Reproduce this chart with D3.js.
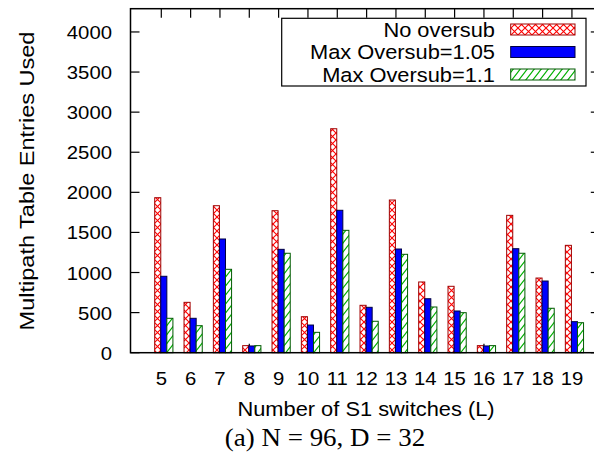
<!DOCTYPE html>
<html><head><meta charset="utf-8">
<script src="https://cdn.jsdelivr.net/npm/d3@7"></script>
<style>body{margin:0;background:#fff}</style>
</head><body>
<svg id="c" width="594" height="457" xmlns="http://www.w3.org/2000/svg"></svg>
<script>
const categories = [5,6,7,8,9,10,11,12,13,14,15,16,17,18,19];
const seriesNames = ["No oversub","Max Oversub=1.05","Max Oversub=1.1"];
const noOversub  = [1933,628,1833,88,1771,449,2793,591,1904,882,828,88,1713,931,1339];
const oversub105 = [953,429,1418,84,1289,345,1776,566,1293,673,520,84,1297,894,387];
const oversub11  = [429,337,1040,88,1240,254,1526,392,1227,570,499,88,1240,554,374];
const yTicks = [0,500,1000,1500,2000,2500,3000,3500,4000];
const xLabel = "Number of S1 switches (L)";
const yLabel = "Multipath Table Entries Used";
const caption = "(a)  N = 96, D = 32";

const series = [noOversub, oversub105, oversub11];
const SANS = "'Liberation Sans', Arial, Helvetica, sans-serif";
const SERIF = "'Liberation Serif', 'Times New Roman', serif";
const SX = 1.1;

const svg = d3.select("#c");
const L = 130.5, R = 599.8, T = 8.7, B = 352.7;
const x = d3.scaleLinear().domain([-1.05, 14.95]).range([L, R]);
const y = d3.scaleLinear().domain([0, 4290]).range([B, T]);
const bw = 0.207, off0 = -0.225;

// patterns
const defs = svg.append("defs");
const pr = defs.append("pattern").attr("id","pRed").attr("patternUnits","userSpaceOnUse")
  .attr("width",7).attr("height",7);
pr.append("rect").attr("width",7).attr("height",7).attr("fill","#fff");
pr.append("path").attr("d","M0,0L7,7M7,0L0,7").attr("stroke","#ff0000").attr("stroke-width",1.1);
const pg = defs.append("pattern").attr("id","pGreen").attr("patternUnits","userSpaceOnUse")
  .attr("width",7).attr("height",9);
pg.append("rect").attr("width",7).attr("height",9).attr("fill","#fff");
pg.append("path").attr("d","M0,9L7,0M-1,1.3L1,-1.3M6,10.3L8,7.7").attr("stroke","#00b000").attr("stroke-width",1.1);

const fills = ["url(#pRed)", "#0000ff", "url(#pGreen)"];
const strokes = ["#a00000", "#000040", "#005a00"];

// ticks (behind bars)
const tk = svg.append("g").attr("stroke","#000").attr("stroke-width",1.2);
categories.forEach((c,i)=>{
  tk.append("line").attr("x1",x(i)).attr("x2",x(i)).attr("y1",B).attr("y2",B-9);
  tk.append("line").attr("x1",x(i)).attr("x2",x(i)).attr("y1",T).attr("y2",T+9);
});
yTicks.forEach(v=>{
  tk.append("line").attr("x1",L).attr("x2",L+9).attr("y1",y(v)).attr("y2",y(v));
  tk.append("line").attr("x1",R).attr("x2",R-9).attr("y1",y(v)).attr("y2",y(v));
});

// bars
series.forEach((vals,j)=>{
  svg.append("g").selectAll("rect").data(vals).join("rect")
    .attr("x",(d,i)=>x(i+off0+j*bw))
    .attr("width",(d,i)=>x(i+off0+(j+1)*bw)-x(i+off0+j*bw))
    .attr("y",d=>y(d))
    .attr("height",d=>y(0)-y(d))
    .attr("fill",fills[j]).attr("stroke",strokes[j]).attr("stroke-width",1);
});

// frame
svg.append("rect").attr("x",L).attr("y",T).attr("width",R-L).attr("height",B-T)
  .attr("fill","none").attr("stroke","#000").attr("stroke-width",1.5);

function stext(px, py, str, opts){
  const g = svg.append("g").attr("transform",`translate(${px},${py})${opts.rot?" rotate(-90)":""} scale(${opts.sx||SX},1)`);
  g.append("text").attr("x",0).attr("y",0).attr("text-anchor",opts.anchor||"middle")
    .attr("font-family",opts.font||SANS).attr("font-size",opts.size||19.5).attr("fill","#000").text(str);
}

// y tick labels
yTicks.forEach(v=> stext(112, y(v)+7, String(v), {anchor:"end", size:19, sx:1.07}));
// x tick labels
categories.forEach((c,i)=> stext(x(i), 384.5, String(c), {size:19, sx:1.07}));
// axis labels
stext(366, 415.5, xLabel, {size:19.5, sx:1.12});
stext(34, 181, yLabel, {size:21, rot:true, sx:1.12});
stext(325, 446, caption, {font:SERIF, size:24.5, sx:1.1});

// legend
const lg = svg.append("g");
lg.append("rect").attr("x",281.7).attr("y",18.3).attr("width",304.3).attr("height",67.7)
  .attr("fill","#fff").attr("stroke","#000").attr("stroke-width",1.2);
seriesNames.forEach((n,j)=>{
  const cy = 29.5 + j*22.5;
  lg.append("rect").attr("x",510.7).attr("y",cy-5.5).attr("width",64.3).attr("height",11)
    .attr("fill",fills[j]).attr("stroke",strokes[j]).attr("stroke-width",1);
  stext(495, cy+7, n, {anchor:"end", size:19.5, sx:1.12});
});
</script>
</body></html>
